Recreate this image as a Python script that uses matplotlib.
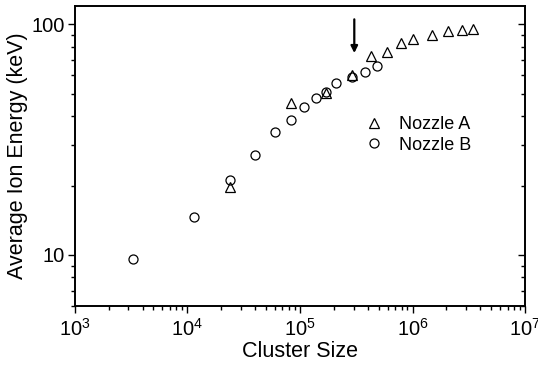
import matplotlib
matplotlib.use("Agg")
import matplotlib.pyplot as plt
from matplotlib.ticker import LogLocator, NullFormatter, FixedFormatter, FixedLocator

plt.rcParams['font.family'] = ['Liberation Sans', 'DejaVu Sans']

# ---------- data ----------
size_a = [2.39e4, 8.26e4, 1.70e5, 2.88e5, 4.28e5, 5.97e5, 7.85e5, 1.0e6,
          1.50e6, 2.07e6, 2.73e6, 3.47e6]
energy_a = [19.7, 45.5, 50.2, 60.3, 72.9, 76.1, 83.2, 86.1, 89.9, 93.3, 94.5, 95.1]

size_b = [3.3e3, 1.135e4, 2.39e4, 3.98e4, 6.0e4, 8.26e4, 1.09e5, 1.39e5,
          1.70e5, 2.07e5, 2.88e5, 3.81e5, 4.84e5]
energy_b = [9.6, 14.6, 21.2, 27.2, 34.1, 38.5, 43.7, 47.8, 51.1, 55.7, 59.0, 62.0, 66.2]

y_ticks = [10, 100]
y_ticklabels = ['10', '100']

arrow_x = 3.04e5
arrow_y = (105, 75)

fig, ax = plt.subplots(figsize=(5.38, 3.72), dpi=100)
fig.subplots_adjust(left=0.139, right=0.976, top=0.984, bottom=0.177)

mk = dict(linestyle='None', markerfacecolor='none', markeredgecolor='black',
          markeredgewidth=0.9)
ax.plot(size_a, energy_a, marker='^', markersize=7.5, label='Nozzle A', **mk)
ax.plot(size_b, energy_b, marker='o', markersize=6.5, label='Nozzle B', **mk)

ax.annotate('', xy=(arrow_x, arrow_y[1]), xytext=(arrow_x, arrow_y[0]),
            arrowprops=dict(arrowstyle='-|>', color='black', lw=1.6,
                            mutation_scale=10, shrinkA=0, shrinkB=0))

ax.set_xscale('log')
ax.set_yscale('log')
ax.set_xlim(1e3, 1e7)
ax.set_ylim(6, 120)

ax.set_xlabel('Cluster Size', fontsize=15.5, labelpad=1)
ax.set_ylabel('Average Ion Energy (keV)', fontsize=15.5, labelpad=3)

ax.yaxis.set_major_locator(FixedLocator(y_ticks))
ax.yaxis.set_major_formatter(FixedFormatter(y_ticklabels))
ax.yaxis.set_minor_locator(LogLocator(base=10, subs=range(2, 10)))
ax.yaxis.set_minor_formatter(NullFormatter())
ax.xaxis.set_minor_locator(LogLocator(base=10, subs=range(2, 10)))
ax.xaxis.set_minor_formatter(NullFormatter())

ax.tick_params(which='both', direction='out', labelsize=14.5, width=1)
ax.tick_params(which='major', length=5)
ax.tick_params(which='minor', length=3)
ax.tick_params(axis='y', pad=2)

# right axis: inward ticks, no labels
ax2 = ax.twinx()
ax2.set_yscale('log')
ax2.set_ylim(ax.get_ylim())
ax2.yaxis.set_major_locator(FixedLocator(y_ticks))
ax2.yaxis.set_minor_locator(LogLocator(base=10, subs=range(2, 10)))
ax2.yaxis.set_major_formatter(NullFormatter())
ax2.yaxis.set_minor_formatter(NullFormatter())
ax2.tick_params(which='both', direction='in', width=1)
ax2.tick_params(which='major', length=5)
ax2.tick_params(which='minor', length=3)

for a in (ax, ax2):
    for sp in a.spines.values():
        sp.set_linewidth(1.2)

ax.legend(loc='upper left', bbox_to_anchor=(0.612, 0.675), frameon=False,
          fontsize=13, handletextpad=0.8, labelspacing=0.2, borderpad=0.2,
          handlelength=1.2)

fig.savefig('out.png', dpi=100)
